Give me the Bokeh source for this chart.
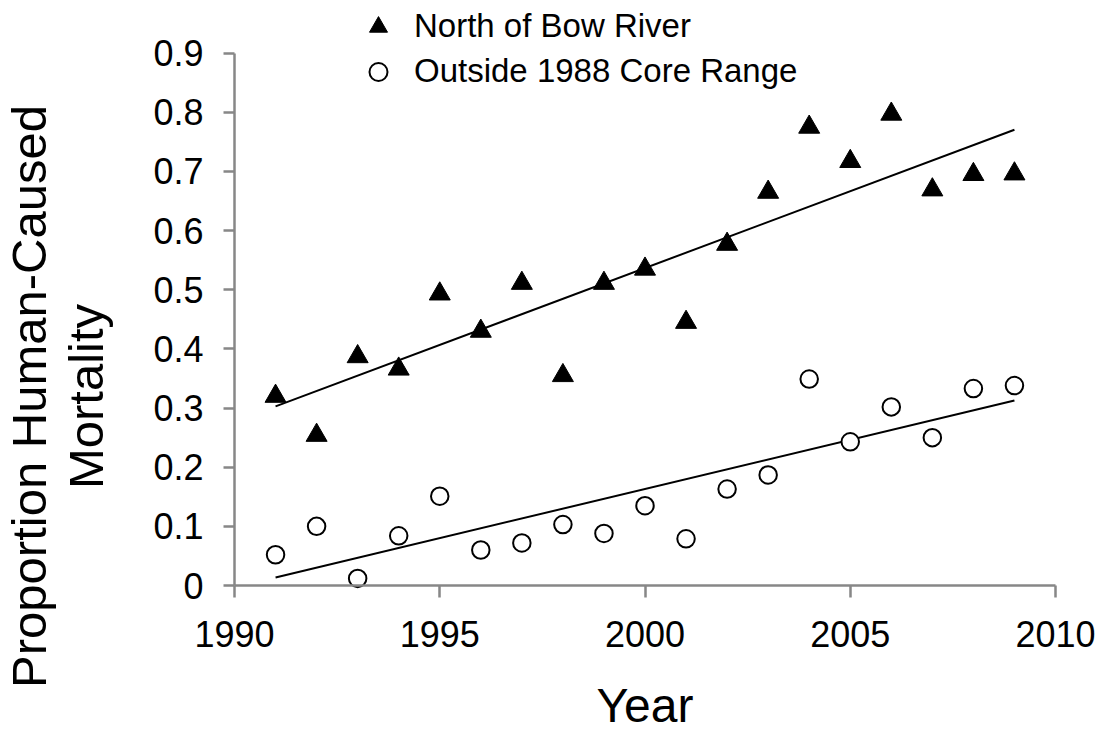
import numpy as np
from bokeh.plotting import figure
from bokeh.models import (Legend, LegendItem, Label, FixedTicker, Range1d,
                          LinearAxis)
from bokeh.embed import file_html
from bokeh.resources import INLINE

# ---- data -------------------------------------------------------------
years = [1991, 1992, 1993, 1994, 1995, 1996, 1997, 1998, 1999, 2000,
         2001, 2002, 2003, 2004, 2005, 2006, 2007, 2008, 2009]
north_bow = [0.320, 0.254, 0.387, 0.366, 0.493, 0.430, 0.511, 0.355, 0.511, 0.535,
             0.445, 0.577, 0.665, 0.775, 0.717, 0.797, 0.669, 0.695, 0.696]
outside_core = [0.052, 0.100, 0.012, 0.084, 0.151, 0.060, 0.072, 0.103, 0.088, 0.135,
                0.079, 0.163, 0.187, 0.349, 0.243, 0.302, 0.250, 0.333, 0.338]

x_ticks = [1990, 1995, 2000, 2005, 2010]
y_ticks = [0, 0.1, 0.2, 0.3, 0.4, 0.5, 0.6, 0.7, 0.8, 0.9]
y_tick_labels = ["0", "0.1", "0.2", "0.3", "0.4", "0.5", "0.6", "0.7", "0.8", "0.9"]

series_names = ["North of Bow River", "Outside 1988 Core Range"]
x_title = "Year"
y_title_lines = ["Proportion Human-Caused", "Mortality"]

# ---- layout -----------------------------------------------------------
# The frame covers the whole canvas; the axes sit at fixed data positions
# so that titles and legend can live in the surrounding white space.
W, H = 1103, 736
AX_LEFT, AX_RIGHT, AX_TOP, AX_BOTTOM = 234, 1055, 52.7, 585
FONT = "Liberation Sans"
AXIS_GREY = "#878787"

x0, x1 = x_ticks[0], x_ticks[-1]
y0, y1 = y_ticks[0], y_ticks[-1]


def px_x(px):
    """canvas pixel column -> data x"""
    return x0 + (px - AX_LEFT) / (AX_RIGHT - AX_LEFT) * (x1 - x0)


def px_y(py):
    """canvas pixel row -> data y"""
    return y0 + (AX_BOTTOM - py) / (AX_BOTTOM - AX_TOP) * (y1 - y0)


p = figure(width=W, height=H, output_backend="svg", toolbar_location=None,
           x_range=Range1d(px_x(0), px_x(W)), y_range=Range1d(px_y(H), px_y(0)),
           x_axis_location=None, y_axis_location=None, min_border=0)
p.outline_line_color = None
p.background_fill_color = "white"
p.border_fill_color = "white"
p.xgrid.visible = False
p.ygrid.visible = False

xaxis = LinearAxis(fixed_location=y0, bounds=(x0, x1),
                   ticker=FixedTicker(ticks=x_ticks),
                   major_tick_out=12, major_label_standoff=23)
yaxis = LinearAxis(fixed_location=x0, bounds=(y0, y1),
                   ticker=FixedTicker(ticks=y_ticks),
                   major_tick_out=11, major_label_standoff=20,
                   major_label_overrides={t: s for t, s in zip(y_ticks, y_tick_labels)})
for ax in (xaxis, yaxis):
    ax.axis_line_color = AXIS_GREY
    ax.axis_line_width = 2.5
    ax.major_tick_line_color = AXIS_GREY
    ax.major_tick_line_width = 2.5
    ax.major_tick_in = 0
    ax.minor_tick_line_color = None
    ax.major_label_text_font = FONT
    ax.major_label_text_font_size = "36px"
    ax.major_label_text_color = "black"
p.add_layout(xaxis, "below")
p.add_layout(yaxis, "left")

# linear trend lines
xs = np.array(years, dtype=float)
for vals in (north_bow, outside_core):
    slope, icpt = np.polyfit(xs, np.array(vals), 1)
    ends = np.array([xs[0], xs[-1]])
    p.line(ends, slope * ends + icpt, line_color="black", line_width=2)

# points
r_north = p.scatter(years, north_bow, marker="triangle", size=21,
                    fill_color="black", line_color="black", line_width=1)
r_out = p.scatter(years, outside_core, marker="circle", size=17.5,
                  fill_color="white", line_color="black", line_width=2)

legend = Legend(items=[LegendItem(label=series_names[0], renderers=[r_north]),
                       LegendItem(label=series_names[1], renderers=[r_out])],
                location=(353, H - 93.5), orientation="vertical",
                glyph_width=50, glyph_height=45, label_height=45,
                spacing=0, padding=0, margin=0, label_standoff=11,
                border_line_color=None, background_fill_alpha=0,
                label_text_font=FONT, label_text_font_size="33px",
                label_text_color="black")
p.add_layout(legend)

# axis titles (anchored on the middle of each text line)
for i, line in enumerate(y_title_lines):
    p.add_layout(Label(x=px_x(28 + 57 * i), y=px_y(396), text=line, angle=np.pi / 2,
                       text_align="center", text_baseline="middle",
                       text_font=FONT, text_font_size="49px", text_color="black"))

p.add_layout(Label(x=(x0 + x1) / 2, y=px_y(705), text=x_title,
                   text_align="center", text_baseline="middle",
                   text_font=FONT, text_font_size="48px", text_color="black"))

open("out.html", "w").write(file_html(p, INLINE))
